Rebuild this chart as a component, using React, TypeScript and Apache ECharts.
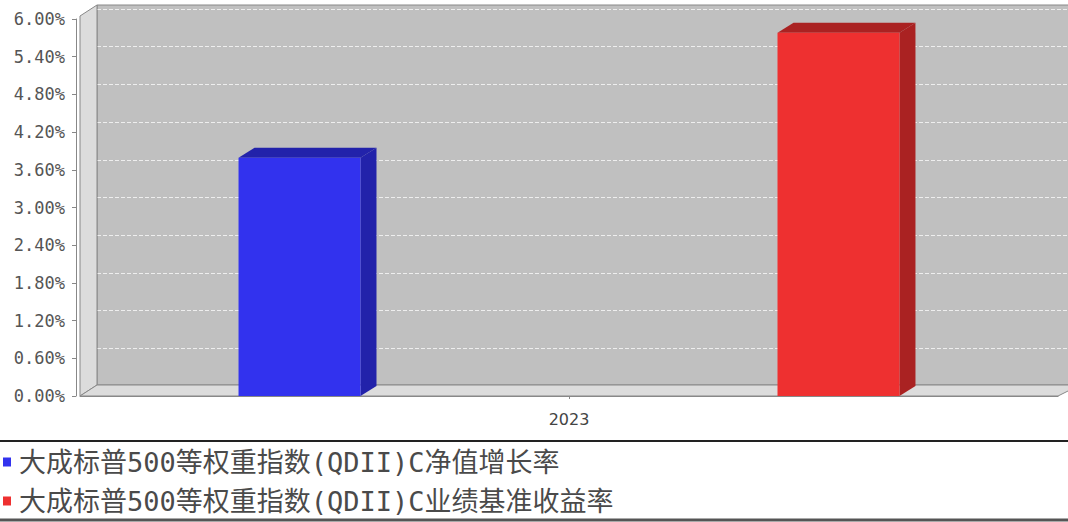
import React, { useEffect, useRef } from "react";
import * as echarts from "echarts";

const categories = ["2023"];
const seriesNames = [
  "大成标普500等权重指数(QDII)C净值增长率",
  "大成标普500等权重指数(QDII)C业绩基准收益率",
];
const seriesValues = [3.79, 5.78];
const frontColors = ["#3232ee", "#ee3030"];
const sideColors = ["#2222aa", "#aa2222"];
const yMin = 0;
const yMax = 6;
const yInterval = 0.6;

const DX = 16;
const DY = -10;

export default function App() {
  const ref = useRef<HTMLDivElement>(null);
  useEffect(() => {
    document.body.style.margin = "0";
    if (!ref.current) return;
    const chart = echarts.init(ref.current, undefined, { renderer: "svg" });
    const n = seriesValues.length;
    const renderItem = (params: any, api: any) => {
      const si = params.seriesIndex;
      const base = api.coord([api.value(0), 0]);
      const top = api.coord([api.value(0), api.value(1)]);
      const band = api.size([1, 0])[0];
      const bw = band * 0.1247;
      const gap = band * 0.4264;
      const total = n * bw + (n - 1) * gap;
      const x0 = base[0] - total / 2 + si * (bw + gap);
      const x1 = x0 + bw;
      const yb = base[1];
      const yt = top[1];
      return {
        type: "group",
        children: [
          {
            type: "polygon",
            shape: { points: [[x1, yb], [x1, yt], [x1 + DX, yt + DY], [x1 + DX, yb + DY]] },
            style: { fill: sideColors[si] },
          },
          {
            type: "polygon",
            shape: { points: [[x0, yt], [x0 + DX, yt + DY], [x1 + DX, yt + DY], [x1, yt]] },
            style: { fill: sideColors[si] },
          },
          {
            type: "rect",
            shape: { x: x0, y: yt, width: bw, height: yb - yt },
            style: { fill: frontColors[si] },
          },
        ],
      };
    };
    const option: any = {
      animation: false,
      backgroundColor: "#ffffff",
      grid: [
        { left: 80, right: 10, top: 19, bottom: 126, z: 3 },
        { left: 97, right: -7, top: 9, bottom: 136, z: 1 },
      ],
      xAxis: [
        {
          type: "category",
          gridIndex: 0,
          data: categories,
          offset: 5,
          axisLine: { show: true, lineStyle: { color: "#888888", width: 1 } },
          axisTick: { show: true, length: 3, alignWithLabel: true, lineStyle: { color: "#888888" } },
          axisLabel: { fontSize: 16, color: "#444444", margin: 10, fontFamily: "DejaVu Sans" },
        },
        {
          type: "category",
          gridIndex: 1,
          data: categories,
          show: false,
        },
      ],
      yAxis: [
        {
          type: "value",
          gridIndex: 0,
          min: yMin,
          max: yMax,
          interval: yInterval,
          offset: 4,
          axisLine: { show: true, lineStyle: { color: "#888888" } },
          axisTick: { show: true, length: 4, lineStyle: { color: "#888888" } },
          axisLabel: {
            fontSize: 17,
            color: "#555555",
            margin: 11,
            fontFamily: "DejaVu Sans Mono",
            formatter: (v: number) => v.toFixed(2) + "%",
          },
          splitLine: { show: false },
        },
        {
          type: "value",
          gridIndex: 1,
          min: yMin,
          max: yMax,
          interval: yInterval,
          axisLine: { show: false },
          axisTick: { show: false },
          axisLabel: { show: false },
          splitLine: { show: true, lineStyle: { color: "#eeeeee", type: [4, 2], width: 1 } },
        },
      ],
      legend: {
        type: "plain",
        orient: "vertical",
        left: 3,
        top: 448,
        height: 90,
        padding: 0,
        itemWidth: 8,
        itemHeight: 9,
        itemGap: 11,
        icon: "rect",
        data: seriesNames,
        textStyle: {
          fontSize: 27,
          lineHeight: 28,
          color: "#4a4a4a",
          fontFamily: "DejaVu Sans Mono, Noto Sans CJK SC",
          padding: [0, 0, 0, 3],
        },
      },
      graphic: [
        {
          type: "rect",
          z: -10,
          shape: { x: 97, y: 5, width: 980, height: 380 },
          style: { fill: "#c0c0c0", stroke: "#888888", lineWidth: 1 },
        },
        {
          type: "polygon",
          z: 1,
          shape: { points: [[80, 16], [97, 5], [97, 385], [80, 396]] },
          style: { fill: "#dcdcdc", stroke: "#888888", lineWidth: 1 },
        },
        {
          type: "polygon",
          z: 1,
          shape: { points: [[80, 396], [97, 385], [1080, 385], [1058, 396]] },
          style: { fill: "#dcdcdc", stroke: "#888888", lineWidth: 1 },
        },
        {
          type: "line",
          shape: { x1: 0, y1: 441, x2: 1068, y2: 441 },
          style: { stroke: "#222222", lineWidth: 2 },
        },
        {
          type: "line",
          shape: { x1: 0, y1: 520, x2: 1068, y2: 520 },
          style: { stroke: "#555555", lineWidth: 3 },
        },
      ],
      series: seriesValues.map((v, i) => ({
        type: "custom",
        name: seriesNames[i],
        xAxisIndex: 0,
        yAxisIndex: 0,
        z: 5,
        itemStyle: { color: frontColors[i] },
        renderItem,
        encode: { x: 0, y: 1 },
        data: [[0, v]],
      })),
    };
    chart.setOption(option);
    return () => chart.dispose();
  }, []);
  return <div ref={ref} style={{ width: 1068, height: 522 }} />;
}
